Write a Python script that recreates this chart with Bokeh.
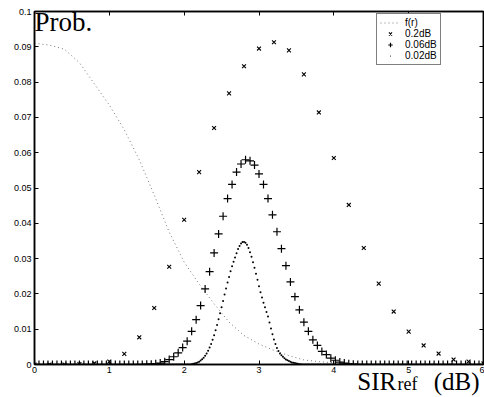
from bokeh.plotting import figure
from bokeh.models import (Range1d, FixedTicker, LinearAxis, Label, Legend, LegendItem,
                          CustomJSTickFormatter)
from bokeh.embed import file_html
from bokeh.resources import INLINE

# ---------------- data ----------------
x_ticks = [0, 1, 2, 3, 4, 5, 6]
y_ticks = [0, 0.01, 0.02, 0.03, 0.04, 0.05, 0.06, 0.07, 0.08, 0.09, 0.1]

# f(r) reference density (dotted)
fr_x = [0.0, 0.2, 0.4, 0.6, 0.8, 1.0, 1.2, 1.4, 1.6, 1.8, 2.0, 2.2, 2.4, 2.6, 2.8,
        3.0, 3.2, 3.4, 3.6, 3.8, 4.0, 4.2, 4.4, 4.6, 4.8, 5.0, 5.2, 5.4, 5.6, 5.8, 6.0]
fr_y = [0.0910, 0.0905, 0.0893, 0.0855, 0.0795, 0.0735, 0.0665, 0.0580, 0.0480, 0.0375,
        0.0290, 0.0228, 0.0172, 0.0120, 0.0082, 0.0058, 0.0040, 0.0025, 0.0013, 0.0008,
        0.0005, 0.0003, 0.0002, 0.0001, 0.0, 0.0, 0.0, 0.0, 0.0, 0.0, 0.0]

# 0.2 dB step
x_02 = [0.0, 0.2, 0.4, 0.6, 0.8, 1.0, 1.2, 1.4, 1.6, 1.8, 2.0, 2.2, 2.4, 2.6, 2.8,
        3.0, 3.2, 3.4, 3.6, 3.8, 4.0, 4.2, 4.4, 4.6, 4.8, 5.0, 5.2, 5.4, 5.6, 5.8, 6.0]
y_02 = [0.0, 0.0, 0.0, 0.0001, 0.0003, 0.0008, 0.0030, 0.0077, 0.0160, 0.0277,
        0.0410, 0.0545, 0.0670, 0.0768, 0.0845, 0.0895, 0.0913, 0.0890, 0.0822, 0.0714,
        0.0585, 0.0452, 0.0330, 0.0229, 0.0150, 0.0093, 0.0054, 0.0031, 0.0014, 0.0008,
        0.0003]

# 0.06 dB step (x = 0, 0.06, ..., 6.0)
x_006 = [round(0.06 * k, 2) for k in range(101)]
y_006_mid = [0.0001, 0.0001, 0.0002, 0.0004, 0.0008, 0.0014, 0.0022, 0.0033, 0.0048,
             0.0066, 0.0094, 0.0127, 0.0167, 0.0214, 0.0263, 0.0316, 0.0370, 0.0420,
             0.0470, 0.0510, 0.0545, 0.0568, 0.0580, 0.0577, 0.0565, 0.0540, 0.0510,
             0.0470, 0.0424, 0.0376, 0.0328, 0.0280, 0.0234, 0.0192, 0.0155, 0.0120,
             0.0094, 0.0070, 0.0054, 0.0037, 0.0028, 0.0018, 0.0012, 0.0007, 0.0004,
             0.0002, 0.0001]          # x = 1.50 ... 4.26
y_006 = [0.0] * 25 + y_006_mid + [0.0] * 29

# 0.02 dB step (x = 0, 0.02, ..., 6.0)
x_002 = [round(0.02 * k, 2) for k in range(301)]
y_002_mid = [0.0001, 0.0002, 0.0003, 0.0004, 0.0006, 0.0008, 0.0011, 0.0015, 0.0019,
             0.0025, 0.0031, 0.0039, 0.0048, 0.0058, 0.0070, 0.0083, 0.0097, 0.0112,
             0.0128, 0.0145, 0.0162, 0.0180, 0.0198, 0.0215, 0.0232, 0.0248, 0.0264,
             0.0278, 0.0291, 0.0303, 0.0315, 0.0327, 0.0336, 0.0343, 0.0347,      # 2.10..2.78
             0.0347, 0.0345, 0.0339, 0.0330, 0.0318, 0.0305, 0.0290, 0.0274, 0.0257,
             0.0240, 0.0222, 0.0205, 0.0190, 0.0175, 0.0162, 0.0149, 0.0136, 0.0119,
             0.0102, 0.0086, 0.0071, 0.0058, 0.0047, 0.0038, 0.0031, 0.0026, 0.0022,
             0.0018, 0.0014, 0.0012, 0.0010, 0.0008, 0.0006, 0.0005, 0.0004, 0.0003,
             0.0002, 0.0001, 0.0001]                                              # 2.80..3.56
y_002 = [0.0] * 105 + y_002_mid + [0.0] * (301 - 105 - len(y_002_mid))

NB = "\u00a0"
xlabel_main = NB * 51 + "SIR" + NB * 6 + "(dB)"
xlabel_sub = NB * 66 + "ref"

# ---------------- figure ----------------
p = figure(width=484, height=397, output_backend="svg", toolbar_location=None,
           x_range=Range1d(0, 6), y_range=Range1d(0, 0.1),
           min_border_left=34, min_border_right=1, min_border_top=11, min_border_bottom=32)
p.background_fill_color = "white"
p.border_fill_color = "white"
p.grid.visible = False
p.outline_line_color = "black"
p.outline_line_width = 1.5

fmt = CustomJSTickFormatter(code="return String(parseFloat(tick.toFixed(4)));")

def style_axis(ax, labels=True):
    ax.axis_line_color = "black"
    ax.axis_line_width = 1.5
    ax.major_tick_in = 4
    ax.major_tick_out = 0
    ax.minor_tick_line_color = None
    ax.major_tick_line_color = "black"
    ax.major_label_text_font = "Liberation Sans"
    ax.major_label_text_font_size = "9px"
    ax.major_label_text_color = "black" if labels else None
    ax.major_label_standoff = 2 if labels else 0

p.xaxis.ticker = FixedTicker(ticks=x_ticks)
p.yaxis.ticker = FixedTicker(ticks=y_ticks)
p.yaxis.formatter = fmt
style_axis(p.xaxis[0])
style_axis(p.yaxis[0])
p.yaxis.major_label_standoff = 3

ax_r = LinearAxis(ticker=FixedTicker(ticks=y_ticks), formatter=fmt)
style_axis(ax_r, labels=False)
p.add_layout(ax_r, "right")
ax_t = LinearAxis(ticker=FixedTicker(ticks=x_ticks))
style_axis(ax_t, labels=False)
p.add_layout(ax_t, "above")

# x-axis title, drawn by label-only axes stacked under the real x axis
def label_axis(text, size, standoff):
    ax = LinearAxis(ticker=FixedTicker(ticks=[]))
    ax.axis_line_color = None
    ax.major_tick_line_color = None
    ax.minor_tick_line_color = None
    ax.major_tick_in = 0
    ax.major_tick_out = 0
    ax.minor_tick_in = 0
    ax.minor_tick_out = 0
    ax.major_label_text_color = None
    ax.axis_label = text
    ax.axis_label_text_font = "Liberation Serif"
    ax.axis_label_text_font_style = "normal"
    ax.axis_label_text_font_size = size
    ax.axis_label_text_color = "black"
    ax.axis_label_standoff = standoff
    return ax

p.add_layout(label_axis(xlabel_main, "25px", -8), "below")
p.add_layout(label_axis(xlabel_sub, "18px", -24), "below")

# ---------------- glyphs ----------------
r_f = p.line(fr_x, fr_y, line_color="#777777", line_width=1, line_dash="1 3")
r_02 = p.scatter(x_02, y_02, marker="x", size=5.5, line_color="black", line_width=1.1)
r_006 = p.scatter(x_006, y_006, marker="cross", size=8, line_color="black", line_width=1.2)
r_002 = p.scatter(x_002, y_002, marker="dot", size=8, line_color="black", fill_color="black")

legend = Legend(items=[LegendItem(label="f(r)", renderers=[r_f]),
                       LegendItem(label="0.2dB", renderers=[r_02]),
                       LegendItem(label="0.06dB", renderers=[r_006]),
                       LegendItem(label="0.02dB", renderers=[r_002])],
                location=(342, 299))
legend.label_text_font = "Liberation Sans"
legend.label_text_font_size = "10px"
legend.label_text_color = "black"
legend.label_height = 11
legend.glyph_height = 11
legend.glyph_width = 20
legend.label_standoff = 5
legend.padding = 3
legend.spacing = 0
legend.margin = 0
legend.border_line_color = "black"
legend.border_line_width = 1
legend.background_fill_alpha = 1
p.add_layout(legend)

# y-axis title inside the top-left corner
p.add_layout(Label(x=0.0, y=0.0969, text="Prob.", text_font="Liberation Serif",
                   text_font_size="27px", text_color="black", text_baseline="middle"))

open("out.html", "w").write(file_html(p, INLINE))
